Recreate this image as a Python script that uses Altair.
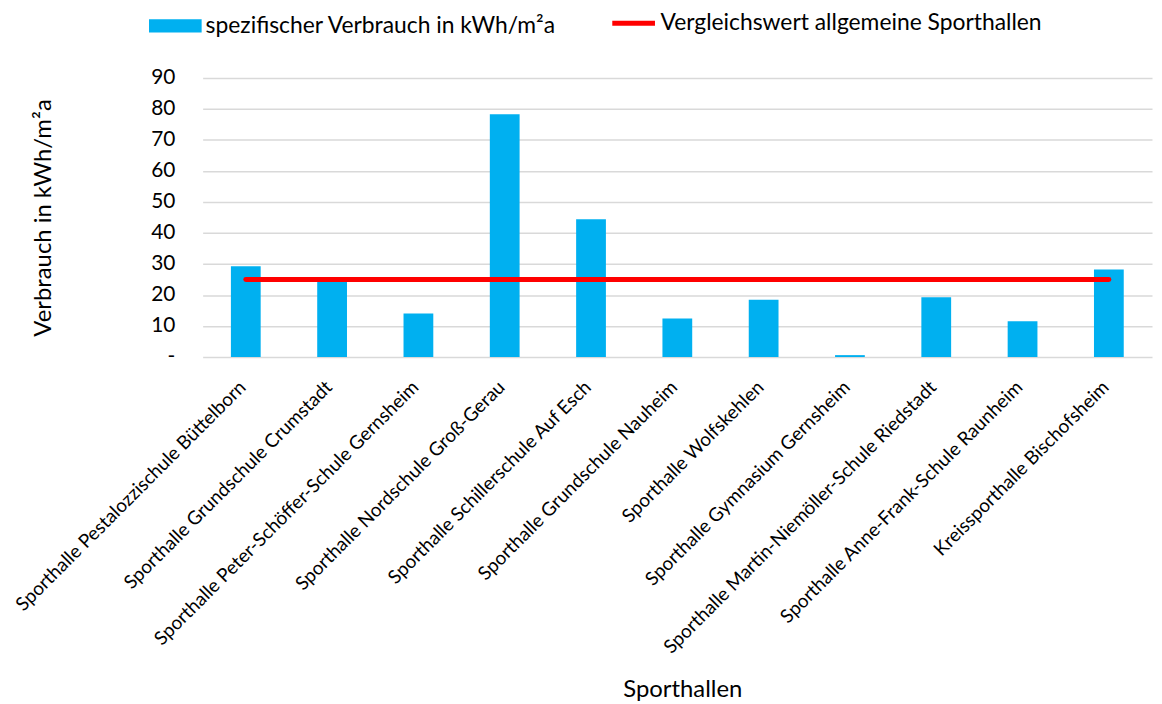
import altair as alt
import pandas as pd

categories = [
    "Sporthalle Pestalozzischule Büttelborn",
    "Sporthalle Grundschule Crumstadt",
    "Sporthalle Peter-Schöffer-Schule Gernsheim",
    "Sporthalle Nordschule Groß-Gerau",
    "Sporthalle Schillerschule Auf Esch",
    "Sporthalle Grundschule Nauheim",
    "Sporthalle Wolfskehlen",
    "Sporthalle Gymnasium Gernsheim",
    "Sporthalle Martin-Niemöller-Schule Riedstadt",
    "Sporthalle Anne-Frank-Schule Raunheim",
    "Kreissporthalle Bischofsheim",
]
verbrauch = [29.3, 24.6, 14.0, 78.3, 44.4, 12.4, 18.5, 0.6, 19.3, 11.5, 28.2]
vergleich = [25, 25, 25, 25, 25, 25, 25, 25, 25, 25, 25]
y_ticks = [0, 10, 20, 30, 40, 50, 60, 70, 80, 90]

bar_name = "spezifischer Verbrauch in kWh/m²a"
line_name = "Vergleichswert allgemeine Sporthallen"

df = pd.DataFrame({
    "halle": categories,
    "verbrauch": verbrauch,
    "vergleich": vergleich,
    "s_bar": [bar_name] * len(categories),
    "s_line": [line_name] * len(categories),
})

FONT = "Lato"

x_enc = alt.X(
    "halle:N",
    sort=categories,
    title="Sporthallen",
    scale=alt.Scale(paddingInner=0.655),
    axis=alt.Axis(
        labelAngle=-45,
        labelAlign="right",
        labelBaseline="middle",
        labelFontSize=19,
        labelFont=FONT,
        labelColor="#000000",
        labelPadding=27,
        labelOffset=-3,
        labelLimit=600,
        ticks=False,
        domain=False,
        grid=False,
        titleFontSize=24,
        titleFont=FONT,
        titleFontWeight="normal",
        titleColor="#000000",
        titleX=483,
        titleY=342,
        titleAlign="center",
        titleBaseline="alphabetic",
    ),
)

y_axis = alt.Axis(
    values=y_ticks,
    labelOverlap=False,
    labelExpr="datum.value == 0 ? '-\u00a0\u00a0' : datum.label",
    labelFontSize=21,
    labelFont=FONT,
    labelColor="#000000",
    labelPadding=28,
    ticks=False,
    domain=False,
    grid=True,
    gridColor="#d9d9d9",
    gridWidth=1.5,
    titleFontSize=24,
    titleFont=FONT,
    titleFontWeight="normal",
    titleColor="#000000",
    titlePadding=96,
)

y_scale = alt.Scale(domain=[0, 90], nice=False)

bars = alt.Chart(df).mark_bar().encode(
    x=x_enc,
    y=alt.Y("verbrauch:Q", title="Verbrauch in kWh/m²a", scale=y_scale, axis=y_axis),
    color=alt.Color(
        "s_bar:N",
        scale=alt.Scale(domain=[bar_name], range=["#00B0F0"]),
        legend=alt.Legend(
            title=None,
            orient="none",
            legendX=-54,
            legendY=-79,
            symbolType="M-1,-0.25L1,-0.25L1,0.25L-1,0.25Z",
            symbolSize=2809,
            symbolStrokeWidth=0,
            symbolOpacity=1,
            labelFontSize=23,
            labelFont=FONT,
            labelColor="#000000",
            labelOffset=4,
            labelLimit=600,
        ),
    ),
)

line = alt.Chart(df).mark_line(strokeWidth=5, strokeCap="round").encode(
    x=alt.X("halle:N", sort=categories),
    y=alt.Y("vergleich:Q", title="Verbrauch in kWh/m²a", scale=y_scale, axis=y_axis),
    stroke=alt.Stroke(
        "s_line:N",
        scale=alt.Scale(domain=[line_name], range=["#FF0000"]),
        legend=alt.Legend(
            title=None,
            orient="none",
            legendX=410,
            legendY=-79,
            symbolType="stroke",
            symbolSize=1849,
            symbolStrokeWidth=5,
            labelFontSize=23,
            labelFont=FONT,
            labelColor="#000000",
            labelOffset=3,
            labelLimit=600,
        ),
    ),
)

chart = alt.layer(bars, line).properties(
    width=956,
    height=281,
    autosize=alt.AutoSizeParams(type="none"),
    padding={"left": 196, "top": 68, "right": 2, "bottom": 346},
).configure(background="white").configure_view(stroke=None)

chart.save("out.html", embed_options={"renderer": "svg", "actions": False})
